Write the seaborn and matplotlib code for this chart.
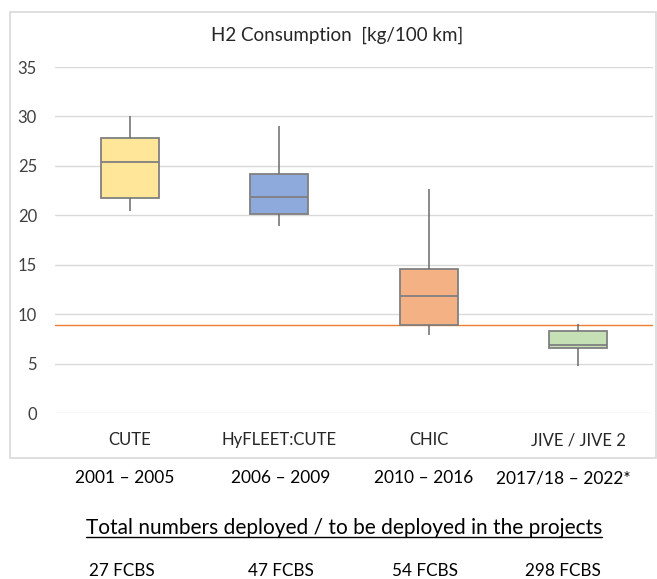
import pandas as pd
import numpy as np
import seaborn as sns
import matplotlib.pyplot as plt
from matplotlib.patches import Rectangle
from matplotlib.lines import Line2D

# five-number summaries: min, q1, median, q3, max
projects = ['CUTE', 'HyFLEET:CUTE', 'CHIC', 'JIVE / JIVE 2']
cute = [20.4, 21.7, 25.4, 27.8, 30.0]
hyfleet = [18.9, 20.1, 21.8, 24.2, 29.0]
chic = [7.9, 8.9, 11.8, 14.55, 22.7]
jive = [4.8, 6.55, 6.9, 8.3, 9.0]
target = 8.9

periods = ['2001 – 2005', '2006 – 2009', '2010 – 2016', '2017/18 – 2022*']
buses = ['27 FCBS', '47 FCBS', '54 FCBS', '298 FCBS']
colors = ['#FFE699', '#8EA9DB', '#F4B183', '#C5E0B4']

df = pd.DataFrame({
    'project': np.repeat(projects, 5),
    'value': cute + hyfleet + chic + jive,
})

sns.set_style('white')
plt.rcParams['font.family'] = ['Lato', 'DejaVu Sans']

fig = plt.figure(figsize=(6.57, 5.79), dpi=100)
ax = fig.add_axes([55/657, 1 - 413/579, 598/657, 346/579])

sns.boxplot(data=df, x='project', y='value', hue='project', palette=colors,
            legend=False, order=projects, width=0.39, whis=(0, 100),
            saturation=1, showcaps=False, linecolor='#808080', linewidth=1.3,
            whiskerprops={'color': '#6B6B6B', 'linewidth': 1.1},
            ax=ax)

ax.axhline(target, color='#ED7D31', lw=1, zorder=1)

ax.set_ylim(0, 35)
ax.set_yticks(range(0, 36, 5))
ax.yaxis.grid(True, color='#D9D9D9', lw=1)
ax.set_axisbelow(True)
for s in ax.spines.values():
    s.set_visible(False)
ax.tick_params(axis='y', length=0, pad=13, labelsize=12, labelcolor='#404040')
ax.tick_params(axis='x', length=0, pad=14, labelsize=12, labelcolor='#262626')
ax.set_xlabel('')
ax.set_ylabel('')

fig.text(337/657, 1 - 35/579, 'H2 Consumption  [kg/100 km]', ha='center',
         va='center', fontsize=13.5, color='#262626')

# chart frame
fig.add_artist(Rectangle((10/657, 1 - 458/579), 646/657, 446/579,
                         transform=fig.transFigure, fill=False,
                         edgecolor='#D9D9D9', lw=1.2))

xs = [125, 281, 424, 563]
for x, p in zip(xs, periods):
    fig.text(x/657, 1 - 478/579, p, ha='center', va='center', fontsize=12.5,
             color='black')

xs2 = [122, 281, 425, 563]
for x, b in zip(xs2, buses):
    fig.text(x/657, 1 - 571/579, b, ha='center', va='center', fontsize=12.3,
             color='black')

t = fig.text(344/657, 1 - 528/579,
             'Total numbers deployed / to be deployed in the projects',
             ha='center', va='center', fontsize=15, color='black')
fig.canvas.draw()
bb = t.get_window_extent().transformed(fig.transFigure.inverted())
fig.add_artist(Line2D([bb.x0, bb.x1], [bb.y0 + 0.002, bb.y0 + 0.002],
                      transform=fig.transFigure, color='black', lw=1))

fig.savefig('out.png', dpi=100)
